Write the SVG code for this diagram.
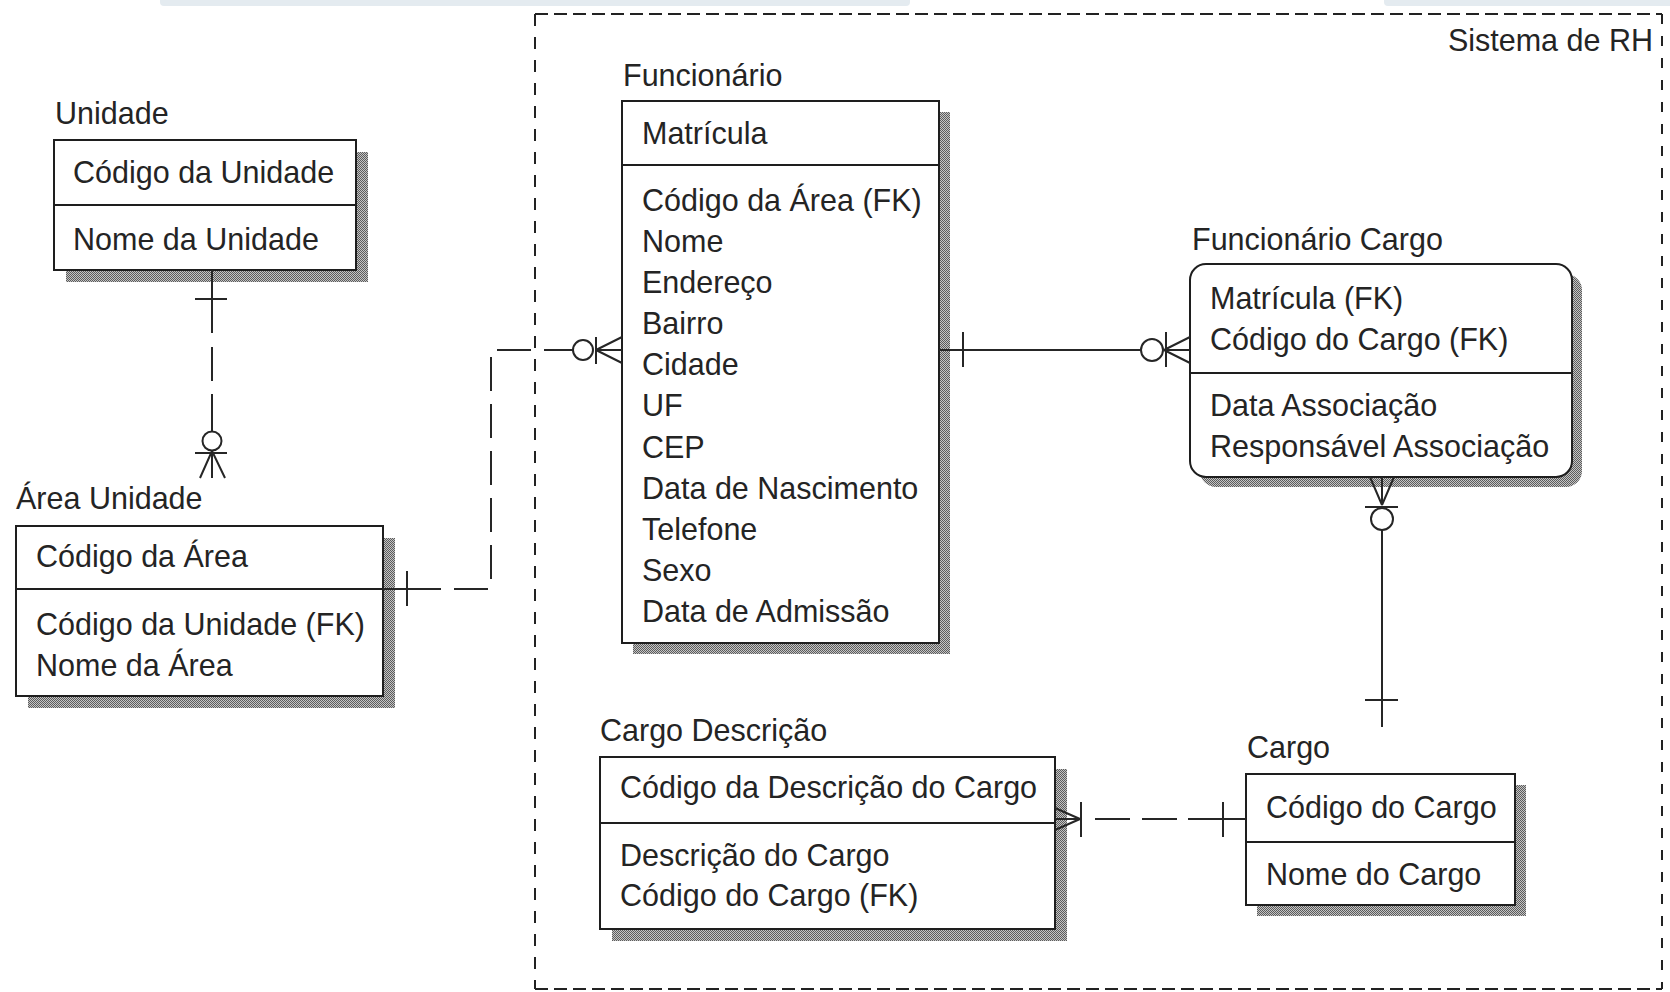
<svg xmlns="http://www.w3.org/2000/svg" width="1670" height="992" viewBox="0 0 1670 992">
<style>
.box{fill:#fff;stroke:#1e1e1e;stroke-width:2}
.sh{fill:url(#dither)}
.t{font-family:"Liberation Sans",Arial,sans-serif;font-size:30.5px;fill:#242424}
.ln{stroke:#262626;stroke-width:2;fill:none}
.dl{stroke-dasharray:34 13}
.sym{fill:#fff;stroke:#262626;stroke-width:2}
.bnd{stroke:#222;stroke-width:2;fill:none}
</style>
<defs>
<pattern id="dither" width="2" height="2" patternUnits="userSpaceOnUse">
<rect width="2" height="2" fill="#c4c4c4"/>
<rect width="1" height="1" fill="#5c5c5c"/>
<rect x="1" y="1" width="1" height="1" fill="#5c5c5c"/>
</pattern>
</defs>
<rect width="1670" height="992" fill="#fff"/>
<g id="top-band" fill="#e4ebf0">
<path d="M160 0 H910 V2 Q910 6 906 6 H164 Q160 6 160 2 Z"/>
<path d="M1384 0 H1670 V6 H1388 Q1384 6 1384 2 Z"/>
</g>
<g id="sistema-rh">
<line class="bnd" x1="535" y1="14" x2="1662" y2="14" stroke-dasharray="13 6"/>
<line class="bnd" x1="535" y1="989" x2="1662" y2="989" stroke-dasharray="13 6"/>
<line class="bnd" x1="535" y1="14" x2="535" y2="989" stroke-dasharray="12 11"/>
<line class="bnd" x1="1662" y1="14" x2="1662" y2="989" stroke-dasharray="10 12"/>
<text class="t" x="1653" y="51" text-anchor="end">Sistema de RH</text>
</g>
<g id="unidade">
<rect class="sh" x="66" y="152" width="302" height="130"/>
<rect class="box" x="54" y="140" width="302" height="130"/>
<line class="box" x1="54" y1="205" x2="356" y2="205"/>
<text class="t" x="55" y="124">Unidade</text>
<text class="t" x="73" y="183">Código da Unidade</text>
<text class="t" x="73" y="250">Nome da Unidade</text>
</g>
<g id="area-unidade">
<rect class="sh" x="28" y="538" width="367" height="170"/>
<rect class="box" x="16" y="526" width="367" height="170"/>
<line class="box" x1="16" y1="589" x2="383" y2="589"/>
<text class="t" x="16" y="509">Área Unidade</text>
<text class="t" x="36" y="567">Código da Área</text>
<text class="t" x="36" y="635">Código da Unidade (FK)</text>
<text class="t" x="36" y="676">Nome da Área</text>
</g>
<g id="funcionario">
<rect class="sh" x="633" y="112" width="317" height="542"/>
<rect class="box" x="622" y="101" width="317" height="542"/>
<line class="box" x1="622" y1="165" x2="939" y2="165"/>
<text class="t" x="623" y="86">Funcionário</text>
<text class="t" x="642" y="144">Matrícula</text>
<text class="t" x="642" y="211">Código da Área (FK)</text>
<text class="t" x="642" y="252">Nome</text>
<text class="t" x="642" y="293">Endereço</text>
<text class="t" x="642" y="334">Bairro</text>
<text class="t" x="642" y="375">Cidade</text>
<text class="t" x="642" y="416">UF</text>
<text class="t" x="642" y="458">CEP</text>
<text class="t" x="642" y="499">Data de Nascimento</text>
<text class="t" x="642" y="540">Telefone</text>
<text class="t" x="642" y="581">Sexo</text>
<text class="t" x="642" y="622">Data de Admissão</text>
</g>
<g id="funcionario-cargo">
<rect class="sh" x="1200" y="274" width="382" height="213" rx="16"/>
<rect class="box" x="1190" y="264" width="382" height="213" rx="16"/>
<line class="box" x1="1190" y1="373" x2="1572" y2="373"/>
<text class="t" x="1192" y="250">Funcionário Cargo</text>
<text class="t" x="1210" y="309">Matrícula (FK)</text>
<text class="t" x="1210" y="350">Código do Cargo (FK)</text>
<text class="t" x="1210" y="416">Data Associação</text>
<text class="t" x="1210" y="457">Responsável Associação</text>
</g>
<g id="cargo">
<rect class="sh" x="1257" y="785" width="269" height="131"/>
<rect class="box" x="1246" y="774" width="269" height="131"/>
<line class="box" x1="1246" y1="842" x2="1515" y2="842"/>
<text class="t" x="1247" y="758">Cargo</text>
<text class="t" x="1266" y="818">Código do Cargo</text>
<text class="t" x="1266" y="885">Nome do Cargo</text>
</g>
<g id="cargo-descricao">
<rect class="sh" x="612" y="769" width="455" height="172"/>
<rect class="box" x="600" y="757" width="455" height="172"/>
<line class="box" x1="600" y1="823" x2="1055" y2="823"/>
<text class="t" x="600" y="741">Cargo Descrição</text>
<text class="t" x="620" y="798">Código da Descrição do Cargo</text>
<text class="t" x="620" y="866">Descrição do Cargo</text>
<text class="t" x="620" y="906">Código do Cargo (FK)</text>
</g>
<g id="connectors">
<g id="c-unidade-area">
<path class="ln" d="M212 270 V333 M212 347 V381 M212 394 V432"/>
<path class="ln" d="M195 299 H227"/>
<circle class="sym" cx="212" cy="441" r="9.5"/>
<path class="ln" d="M195 453 H227 M212 451 L200 478 M212 451 V478 M212 451 L225 478"/>
</g>
<g id="c-area-funcionario">
<path class="ln" d="M383 589 H441 M407 571 V606"/>
<path class="ln dl" d="M454 589 H491 V350 H573"/>
<circle class="sym" cx="583" cy="350" r="10"/>
<path class="ln" d="M596 337 V364 M596 350 L622 337 M596 350 H622 M596 350 L622 363"/>
</g>
<g id="c-funcionario-fcargo">
<path class="ln" d="M939 350 H1141 M963 332 V367"/>
<circle class="sym" cx="1152" cy="350" r="11"/>
<path class="ln" d="M1166 332 V367 M1164 350 L1190 337 M1164 350 H1190 M1164 350 L1190 363"/>
</g>
<g id="c-fcargo-cargo">
<path class="ln" d="M1370 477 L1382 505 M1382 477 V505 M1394 477 L1382 505 M1365 507 H1398"/>
<circle class="sym" cx="1382" cy="519" r="11"/>
<path class="ln" d="M1382 530 V727 M1365 700 H1398"/>
</g>
<g id="c-cdesc-cargo">
<path class="ln" d="M1055 808 L1080 819 M1055 819 H1080 M1055 830 L1080 819 M1081 802 V837"/>
<path class="ln" d="M1095 819 H1130 M1142 819 H1177 M1188 819 H1246 M1223 802 V837"/>
</g>
</g>
</svg>
